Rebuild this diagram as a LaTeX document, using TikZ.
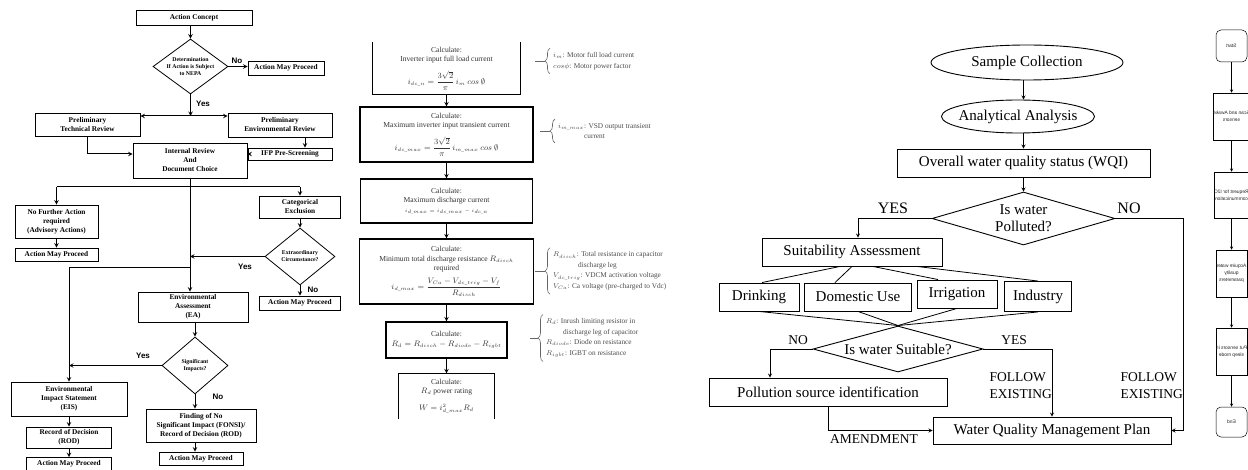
\documentclass[tikz,border=0pt]{standalone}
\usepackage{fontspec}
\setmainfont{Liberation Serif}
\setsansfont{Liberation Sans}
\usepackage{amsmath}
\usetikzlibrary{shapes.geometric,decorations.pathreplacing}

\begin{document}
\begin{tikzpicture}[x=1pt,y=-1pt]
    \tikzstyle{arrow} = [line width=1pt,->,>=stealth]
    \tikzstyle{nepa} = [draw, line width=0.8pt, rectangle, inner sep=0pt, align=center, font=\fontsize{7.3}{9}\selectfont\bfseries]
    \tikzstyle{nepadia} = [draw, line width=0.8pt, diamond, inner sep=0pt]
    \tikzstyle{nepatext} = [align=center, font=\fontsize{5.8}{7}\selectfont\bfseries]
    \tikzstyle{yesno} = [font=\fontsize{8}{9}\selectfont\sffamily\bfseries]
    \tikzstyle{calc} = [rectangle, line width=1.1pt, inner sep=0pt, align=center, text=black!80, font=\fontsize{7.6}{9.5}\selectfont]
    \tikzstyle{note} = [anchor=west, align=left, inner xsep=0pt, inner ysep=4pt, text=black!70, font=\fontsize{7.3}{10.5}\selectfont]
    \tikzstyle{brace} = [decorate, decoration={brace, amplitude=5pt}, line width=0.6pt, black!60]
    \tikzstyle{water} = [draw, rectangle, line width=0.9pt, inner sep=0pt, font=\fontsize{15}{17}\selectfont]
    \tikzstyle{wtext} = [align=center, font=\fontsize{15}{17}\selectfont]
    \tikzstyle{wline} = [line width=0.8pt]
    \tikzstyle{warrow} = [line width=0.8pt,->,>=stealth]
    \tikzstyle{wlabel} = [font=\fontsize{13.5}{17}\selectfont]
    \tikzstyle{mbox} = [draw, rectangle, line width=0.5pt, inner sep=0pt, minimum width=31pt, align=center, text=black!85, font=\sffamily\fontsize{4.9}{7}\selectfont]
    \tikzstyle{mterm} = [mbox, rounded corners=5pt]
    \tikzstyle{marrow} = [line width=0.5pt,->,>=stealth]

    \useasboundingbox (0,0) rectangle (1248,470);
    \fill [white] (0,0) rectangle (1248,470);

    % ---------- NEPA flow ----------
    % Action concept and screening
    \node [nepa, minimum width=116pt, minimum height=15pt] (Concept) at (194,17.5) {Action Concept};
    \node [nepadia, minimum width=75pt, minimum height=55pt, label={[nepatext]center:Determination\\If Action is Subject\\to NEPA}] (Nepa) at (190.5,66.5) {};
    \draw [arrow] (Concept.south -| Nepa.north) -- (Nepa.north);
    \node [nepa, minimum width=76pt, minimum height=14pt] (ProceedA) at (286,68) {Action May Proceed};
    \draw [arrow] (Nepa.east) -- (Nepa.east -| ProceedA.west);
    \node [yesno] (NepaNo) at (237,61) {No};

    % Preliminary reviews
    \coordinate (Split) at (190.5,116);
    \draw [arrow] (Nepa.south) -- (Split);
    \node [yesno] (NepaYes) at (203,104) {Yes};
    \node [nepa, minimum width=105pt, minimum height=23pt] (TechRev) at (87.5,124.5) {Preliminary\\Technical Review};
    \node [nepa, minimum width=104pt, minimum height=24pt] (EnvRev) at (280,125) {Preliminary\\Environmental Review};
    \draw [arrow] (Split) -- (Split -| TechRev.east);
    \draw [arrow] (Split) -- (Split -| EnvRev.west);
    \node [nepa, minimum width=84pt, minimum height=12pt] (Ifp) at (290,154) {IFP Pre-Screening};
    \node [nepa, minimum width=114pt, minimum height=35pt] (Internal) at (190,160.5) {Internal Review\\And\\Document Choice};
    \draw [arrow] ([xshift=25pt]EnvRev.south) -- ([xshift=15pt]Ifp.north);
    \draw [arrow] (Ifp.west) -- (Ifp.west -| Internal.east);
    \draw [arrow] (TechRev.south) |- (Ifp.west -| Internal.west);

    % Document choice branches
    \coordinate (Branch) at (190,187);
    \node [nepa, minimum width=83pt, minimum height=33pt] (NoFurther) at (56.5,221.5) {No Further Action\\required\\(Advisory Actions)};
    \node [nepa, minimum width=83pt, minimum height=13pt] (ProceedB) at (56.5,254.5) {Action May Proceed};
    \node [nepa, minimum width=81pt, minimum height=22pt] (CatEx) at (300,207) {Categorical\\Exclusion};
    \draw [line width=1pt] (Branch -| NoFurther.north) -- (Branch -| CatEx.north);
    \draw [arrow] (Branch -| NoFurther.north) -- (NoFurther.north);
    \draw [arrow] (Branch -| CatEx.north) -- (CatEx.north);
    \draw [arrow] (NoFurther.south) -- (ProceedB.north);

    % Extraordinary circumstance
    \node [nepadia, minimum width=70pt, minimum height=57pt, label={[nepatext]center:Extraordinary\\Circumstance?}] (Extra) at (300,256.5) {};
    \draw [arrow] (CatEx.south) -- (Extra.north);
    \node [nepa, minimum width=81pt, minimum height=14pt] (ProceedC) at (300,303) {Action May Proceed};
    \draw [arrow] (Extra.south) -- (ProceedC.north);
    \node [yesno, anchor=west] (ExtraNo) at (304,290) {No};
    \node [yesno] (ExtraYes) at (245,267) {Yes};
    \draw [arrow] (Extra.west) -- (Extra.west -| Internal.south);

    % Environmental assessment
    \node [nepa, minimum width=110pt, minimum height=30pt] (EnvAssess) at (193,307) {Environmental\\Assessment\\(EA)};
    \draw [arrow] (Internal.south) -- (Internal.south |- EnvAssess.north);
    \coordinate (EisJoin) at (190,268);
    \node [nepa, minimum width=116pt, minimum height=34pt] (Eis) at (69,399) {Environmental\\Impact Statement\\(EIS)};
    \draw [arrow] (EisJoin) -| (Eis.north);

    % Significant impacts
    \node [nepadia, minimum width=66pt, minimum height=57pt, label={[nepatext]center:Significant\\Impacts?}] (Signif) at (195,365.5) {};
    \draw [arrow] (EnvAssess.south -| Signif.north) -- (Signif.north);
    \draw [arrow] (Signif.west) -- (Signif.west -| Eis.north);
    \node [yesno] (SignifYes) at (143,356) {Yes};
    \node [yesno, anchor=west] (SignifNo) at (209,397) {No};
    \node [nepa, minimum width=110pt, minimum height=33pt] (Fonsi) at (201,425.5) {Finding of No\\Significant Impact (FONSI)/\\Record of Decision (ROD)};
    \draw [arrow] (Signif.south) -- (Signif.south |- Fonsi.north);
    \node [nepa, minimum width=84pt, minimum height=13pt] (ProceedD) at (201,458.5) {Action May Proceed};
    \draw [arrow] (Fonsi.south -| Signif.south) -- (ProceedD.north -| Signif.south);
    \node [nepa, minimum width=85pt, minimum height=21pt] (Rod) at (69,437.5) {Record of Decision\\(ROD)};
    \draw [arrow] (Eis.south) -- (Rod.north);
    \node [nepa, minimum width=85pt, minimum height=13pt] (ProceedE) at (69,464) {Action May Proceed};
    \draw [arrow] (Rod.south) -- (ProceedE.north);

    % ---------- Discharge resistor calculation ----------
    \node [calc, minimum width=147pt, minimum height=51pt] (InvLoad) at (446.5,68.5) {Calculate:\\Inverter input full load current\\[7pt]$i_{dc\_n}=\dfrac{3\sqrt{2}}{\pi}\,i_m\ cos\ \emptyset$};
    \draw [line width=1.1pt] (InvLoad.north west) |- (InvLoad.south east) -- (InvLoad.north east);
    \node [calc, draw, minimum width=173pt, minimum height=55pt] (InvTrans) at (446.5,134.5) {Calculate:\\Maximum inverter input transient current\\[7pt]$i_{dc\_max}=\dfrac{3\sqrt{2}}{\pi}\,i_{m\_max}\ cos\ \emptyset$};
    \node [calc, draw, minimum width=172pt, minimum height=44pt] (DisCur) at (446.5,201) {Calculate:\\Maximum discharge current\\{\fontsize{5.5}{7}\selectfont$i_{d\_max}=i_{dc\_max}-i_{dc\_n}$}};
    \node [calc, draw, minimum width=174pt, minimum height=65pt] (DisRes) at (446.5,271.5) {Calculate:\\Minimum total discharge resistance $R_{disch}$\\required\\[5pt]$i_{d\_max}=\dfrac{V_{Ca}-V_{dc\_trig}-V_f}{R_{disch}}$};
    \node [calc, draw, minimum width=121pt, minimum height=36pt] (Inrush) at (446.5,340) {Calculate:\\$R_d=R_{disch}-R_{diode}-R_{igbt}$};
    \node [calc, minimum width=95pt, minimum height=44pt] (Rating) at (446.5,396) {Calculate:\\$R_d$ power rating\\[7pt]$W=i^2_{d\_max}R_d$};
    \draw [line width=1.1pt] (Rating.south west) |- (Rating.north east) -- (Rating.south east);
    \draw [arrow] (InvLoad.south) -- (InvTrans.north);
    \draw [arrow] (InvTrans.south) -- (DisCur.north);
    \draw [arrow] (DisCur.south) -- (DisRes.north);
    \draw [arrow] (DisRes.south) -- (Inrush.north);
    \draw [arrow] (Inrush.south) -- (Rating.north);

    % Symbol notes
    \node [note] (NoteLoad) at (553,61) {$i_m$: Motor full load current\\$cos\phi$: Motor power factor};
    \draw [brace] ([xshift=-3pt]NoteLoad.south west) -- ([xshift=-3pt]NoteLoad.north west);
    \draw [black!60, line width=0.6pt] ([xshift=-8pt]NoteLoad.west) -- ++(-10,0);
    \node [note] (NoteTrans) at (558,131) {$i_{m\_max}$: VSD output transient\\\hspace*{26pt}current};
    \draw [brace] ([xshift=-3pt]NoteTrans.south west) -- ([xshift=-3pt]NoteTrans.north west);
    \draw [black!60, line width=0.6pt] ([xshift=-8pt]NoteTrans.west) -- ++(-10,0);
    \node [note] (NoteRes) at (553,271) {$R_{disch}$: Total resistance in capacitor\\\hspace*{25pt}discharge leg\\$V_{dc\_trig}$: VDCM activation voltage\\$V_{Ca}$: Ca voltage (pre-charged to Vdc)};
    \draw [brace] ([xshift=-3pt]NoteRes.south west) -- ([xshift=-3pt]NoteRes.north west);
    \draw [black!60, line width=0.6pt] ([xshift=-8pt]NoteRes.west) -- ++(-10,0);
    \node [note] (NoteInrush) at (546,338) {$R_d$: Inrush limiting resistor in\\\hspace*{17pt}discharge leg of capacitor\\$R_{diode}$: Diode on resistance\\$R_{igbt}$: IGBT on resistance};
    \draw [brace] ([xshift=-3pt]NoteInrush.south west) -- ([xshift=-3pt]NoteInrush.north west);
    \draw [black!60, line width=0.6pt] ([xshift=-8pt]NoteInrush.west) -- ++(-8,0);

    % ---------- Water quality flow ----------
    \node [draw, ellipse, line width=0.9pt, inner sep=0pt, minimum width=192pt, minimum height=35pt, label={[wtext]center:Sample Collection}] (Sample) at (1027,62.5) {};
    \node [draw, ellipse, line width=0.9pt, inner sep=0pt, minimum width=153pt, minimum height=33pt, label={[wtext]center:Analytical Analysis}] (Analytical) at (1018,116.5) {};
    \node [water, minimum width=253pt, minimum height=28pt] (Overall) at (1023.5,163) {Overall water quality status (WQI)};
    \node [draw, diamond, line width=0.9pt, inner sep=0pt, minimum width=183pt, minimum height=53pt, label={[wtext]center:Is water\\Polluted?}] (Polluted) at (1023.5,218.5) {};
    \draw [warrow] (Sample.south -| Overall.north) -- (Analytical.north -| Overall.north);
    \draw [warrow] (Analytical.south -| Overall.north) -- (Overall.north);
    \draw [warrow] (Overall.south) -- (Polluted.north);

    % Suitability
    \node [water, minimum width=180pt, minimum height=28pt] (Suitab) at (852,252) {Suitability Assessment};
    \node [water, minimum width=80pt, minimum height=28pt] (Drink) at (759,297) {Drinking};
    \node [water, minimum width=107pt, minimum height=28pt] (Domestic) at (858,297) {Domestic Use};
    \node [water, minimum width=80pt, minimum height=28pt] (Irrig) at (957,294) {Irrigation};
    \node [water, minimum width=67pt, minimum height=30pt] (Industry) at (1038,296.5) {Industry};
    \node [wlabel, font=\fontsize{16}{17}\selectfont] (PollYes) at (893,208) {YES};
    \node [wlabel, font=\fontsize{16}{17}\selectfont] (PollNo) at (1129,208) {NO};
    \draw [warrow] (Polluted.west) -| ([xshift=6pt]Suitab.north);
    \draw [wline] ([xshift=-12pt]Suitab.south) -- ([xshift=3pt]Drink.north);
    \draw [wline] (Suitab.south) -- ([xshift=-23pt]Domestic.north);
    \draw [wline] ([xshift=21pt]Suitab.south) -- ([xshift=-19pt]Irrig.north);
    \draw [wline] ([xshift=65pt]Suitab.south) -- (Industry.north);

    % Suitable decision
    \node [draw, diamond, line width=0.9pt, inner sep=0pt, minimum width=170pt, minimum height=46pt, label={[wtext]center:Is water Suitable?}] (SuitDia) at (898,349) {};
    \draw [wline] (Drink.south) -- (SuitDia.north);
    \draw [wline] (Domestic.south) -- (SuitDia.north);
    \draw [wline] (Irrig.south) -- (SuitDia.north);
    \draw [wline] (Industry.south) -- (SuitDia.north);
    \node [water, minimum width=238pt, minimum height=28pt] (Pollution) at (828,392) {Pollution source identification};
    \node [water, minimum width=238pt, minimum height=27pt] (Wqmp) at (1052,430.5) {Water Quality Management Plan};
    \node [wlabel] (SuitNo) at (798,340) {NO};
    \node [wlabel] (SuitYes) at (1014,340) {YES};
    \draw [warrow] (SuitDia.west) -| ([xshift=-58pt]Pollution.north);
    \draw [warrow] (SuitDia.east) -| (Wqmp.north);
    \coordinate (PollCorner) at (1183,218.5);
    \draw [warrow] (Polluted.east) -- (PollCorner) |- (Wqmp.east);
    \draw [warrow] (Pollution.south) |- (Wqmp.west);
    \node [wlabel, anchor=east, align=left, inner xsep=0pt] (FollowA) at (1052,386) {FOLLOW\\EXISTING};
    \node [wlabel, anchor=east, align=left, inner xsep=0pt] (FollowB) at (1183,386) {FOLLOW\\EXISTING};
    \node [wlabel] (Amend) at (874,439) {AMENDMENT};

    % ---------- Sensor loop (mirrored) ----------
    \node [mterm, minimum height=32pt] (Start) at (1231.5,46) {\reflectbox{Start}};
    \node [mbox, minimum height=47pt] (Scan) at (1231.5,116.5) {\reflectbox{Scan and Awake}\\\reflectbox{sensors}};
    \node [mbox, minimum height=46pt] (Request) at (1231.5,195) {\reflectbox{Request for I2C}\\\reflectbox{communication}};
    \node [mbox, minimum height=47pt] (Acquire) at (1231.5,273.5) {\reflectbox{Acquire water}\\\reflectbox{quality}\\\reflectbox{parameters}};
    \node [mbox, minimum height=47pt] (Sleep) at (1231.5,351.5) {\reflectbox{Put sensors in}\\\reflectbox{sleep mode}};
    \node [mterm, minimum height=30pt] (End) at (1231.5,422) {\reflectbox{End}};
    \draw [marrow] (Start) -- (Scan);
    \draw [marrow] (Scan) -- (Request);
    \draw [marrow] (Request) -- (Acquire);
    \draw [marrow] (Acquire) -- (Sleep);
    \draw [marrow] (Sleep) -- (End);
\end{tikzpicture}
\end{document}
